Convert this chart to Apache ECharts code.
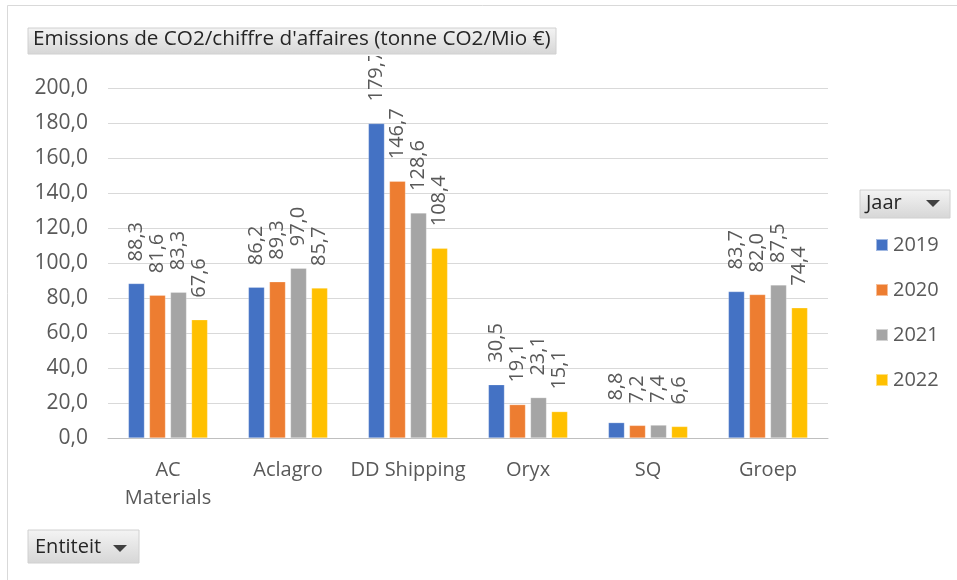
<!DOCTYPE html>
<html>
<head>
<meta charset="utf-8">
<script src="https://cdn.jsdelivr.net/npm/echarts@6/dist/echarts.min.js"></script>
<style>
html,body{margin:0;padding:0;background:#fff;}
#chart{width:957px;height:580px;}
</style>
</head>
<body>
<div id="chart"></div>
<script>
const categories = ['AC\nMaterials', 'Aclagro', 'DD Shipping', 'Oryx', 'SQ', 'Groep'];
const years = ['2019', '2020', '2021', '2022'];
const v2019 = [88.3, 86.2, 179.7, 30.5, 8.8, 83.7];
const v2020 = [81.6, 89.3, 146.7, 19.1, 7.2, 82.0];
const v2021 = [83.3, 97.0, 128.6, 23.1, 7.4, 87.5];
const v2022 = [67.6, 85.7, 108.4, 15.1, 6.6, 74.4];
const yTicks = [0, 20, 40, 60, 80, 100, 120, 140, 160, 180, 200];
const titleText = "Emissions de CO2/chiffre d'affaires (tonne CO2/Mio €)";

const colors = ['#4472C4', '#ED7D31', '#A5A5A5', '#FFC000'];
const FONT = 'Open Sans';
const fmt = v => v.toFixed(1).replace('.', ',');

const chart = echarts.init(document.getElementById('chart'));
const seriesData = [v2019, v2020, v2021, v2022];

const btnGrad = new echarts.graphic.LinearGradient(0, 0, 0, 1, [
  {offset: 0, color: '#f4f4f4'}, {offset: 1, color: '#d6d6d6'}
]);

chart.setOption({
  animation: false,
  color: colors,
  grid: {left: 108, right: 129, top: 88, bottom: 142},
  xAxis: {
    type: 'category',
    data: categories,
    axisTick: {show: false},
    axisLine: {lineStyle: {color: '#bfbfbf'}},
    axisLabel: {color: '#595959', fontSize: 20, fontFamily: FONT, margin: 18, lineHeight: 28, interval: 0}
  },
  yAxis: {
    type: 'value',
    min: yTicks[0], max: yTicks[yTicks.length - 1], interval: 20,
    axisLine: {show: false},
    axisTick: {show: false},
    splitLine: {lineStyle: {color: '#d9d9d9'}},
    axisLabel: {color: '#595959', fontSize: 21, fontFamily: FONT, margin: 20, formatter: v => fmt(v)}
  },
  legend: {
    orient: 'vertical',
    left: 870, top: 230,
    itemWidth: 12, itemHeight: 12, itemGap: 25,
    icon: 'rect',
    textStyle: {color: '#595959', fontSize: 20, fontFamily: FONT},
    data: years
  },
  series: years.map((y, i) => ({
    name: y,
    type: 'bar',
    data: seriesData[i],
    barGap: '31%',
    barCategoryGap: '34%',
    itemStyle: {borderColor: 'rgba(255,255,255,0.5)', borderWidth: 0.5},
    label: {
      show: true,
      position: 'top',
      rotate: 90,
      align: 'left',
      verticalAlign: 'middle',
      distance: 22,
      color: '#595959',
      fontSize: 20,
      fontFamily: FONT,
      formatter: p => fmt(p.value)
    }
  })),
  graphic: [
    {type: 'rect', z: 100, shape: {x: 0, y: 0, width: 957, height: 56}, style: {fill: '#fff'}},
    {type: 'rect', z: 101, shape: {x: 7.5, y: 5.5, width: 960, height: 600}, style: {fill: 'none', stroke: '#d9d9d9', lineWidth: 1}},
    {type: 'rect', z: 102, shape: {x: 28, y: 28, width: 528, height: 26}, style: {fill: btnGrad, stroke: '#d0d0d0', lineWidth: 1}},
    {type: 'text', z: 103, left: 33, top: 29, style: {text: titleText, fill: '#262626', fontSize: 20.7, fontFamily: FONT}},
    {type: 'rect', z: 102, shape: {x: 860, y: 190, width: 90, height: 28}, style: {fill: btnGrad, stroke: '#d0d0d0', lineWidth: 1}},
    {type: 'text', z: 103, left: 866, top: 193, style: {text: 'Jaar', fill: '#262626', fontSize: 20, fontFamily: FONT}},
    {type: 'polygon', z: 103, shape: {points: [[926, 200], [940, 200], [933, 207]]}, style: {fill: '#404040'}},
    {type: 'rect', z: 102, shape: {x: 28, y: 530, width: 111, height: 33}, style: {fill: btnGrad, stroke: '#d0d0d0', lineWidth: 1}},
    {type: 'text', z: 103, left: 35, top: 537, style: {text: 'Entiteit', fill: '#262626', fontSize: 20, fontFamily: FONT}},
    {type: 'polygon', z: 103, shape: {points: [[113, 545], [127, 545], [120, 552]]}, style: {fill: '#404040'}}
  ]
});
</script>
</body>
</html>
